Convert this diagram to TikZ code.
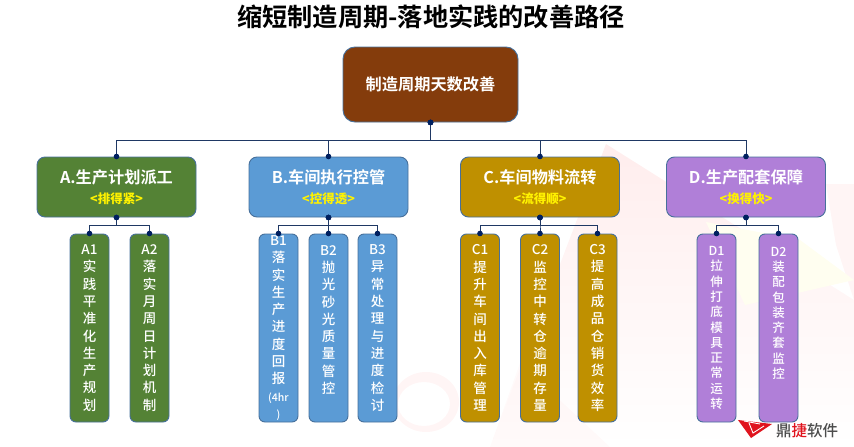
\documentclass[tikz,border=0pt]{standalone}
\usepackage{fontspec}
\setmainfont{Noto Sans CJK SC}[BoldFont={Noto Sans CJK SC Bold}]
\newfontfamily\itemfont{Noto Sans CJK SC Medium}
\usetikzlibrary{arrows.meta}
\definecolor{brownRoot}{HTML}{843C0C}
\definecolor{greenA}{HTML}{548235}
\definecolor{blueB}{HTML}{5B9BD5}
\definecolor{goldC}{HTML}{BF9000}
\definecolor{purpleD}{HTML}{B07FD8}
\definecolor{edgeBox}{HTML}{47709B}
\definecolor{navyLine}{HTML}{1F3864}
\definecolor{dotLine}{HTML}{002060}
\definecolor{redLogo}{HTML}{E0141E}
\tikzset{
  box/.style={draw=edgeBox,line width=.9pt,rounded corners=8pt,text=white,align=center,inner sep=0pt},
  rootbox/.style={box,fill=brownRoot,rounded corners=12pt,minimum width=175pt,minimum height=75pt,font=\fontsize{16.2}{18}\selectfont\bfseries},
  groupbox/.style={box,minimum width=159pt,minimum height=60pt,font=\fontsize{16.2}{19}\selectfont\bfseries},
  itembox/.style={box,rounded corners=6pt,minimum width=39pt,minimum height=188pt,font=\fontsize{13.5}{17.3}\selectfont\itemfont},
  tight/.style={font=\fontsize{12.5}{15.3}\selectfont\itemfont},
  link/.style={draw=navyLine,line width=1pt,{Circle[length=5.5pt,width=5.5pt,color=dotLine]}-{Circle[length=5.5pt,width=5.5pt,color=dotLine]},shorten <=-2.7pt,shorten >=-2.7pt},
  wash/.style={fill=red,fill opacity=.04,draw=none}
}
\newcommand{\motto}[1]{\\[1pt]{\fontsize{12.5}{14}\selectfont\itemfont\color{yellow}#1}}
\begin{document}
\begin{tikzpicture}[x=1pt,y=-1pt]
  \useasboundingbox (0,0) rectangle (854,447);
  % background
  \shade[top color=red!7,bottom color=white] (606,144) -- (854,300) -- (854,447) -- (490,447) -- cycle;
  \fill[wash] (826,184) -- (854,184) -- (854,300) -- (836,245) -- cycle;
  \fill[yellow!6] (706,222) -- (745,305) -- (854,280) -- (800,240) -- cycle;
  \fill[wash,even odd rule] (426,402) ellipse (33pt and 30pt) (424,404) ellipse (26pt and 22pt);
  \fill[wash,fill opacity=.02] (520,363) -- (490,447) -- (610,447) -- cycle;
  \node[font=\fontsize{25.2}{30}\selectfont\bfseries] (title) at (431,17) {缩短制造周期-落地实践的改善路径};
  % top level
  \node[rootbox] (root) at (430.5,84.5) {制造周期天数改善};
  \node[groupbox,fill=greenA] (A) at (116.5,187) {A.生产计划派工\motto{<排得紧>}};
  \node[groupbox,fill=blueB] (B) at (328.5,187) {B.车间执行控管\motto{<控得透>}};
  \node[groupbox,fill=goldC] (C) at (540,187) {C.车间物料流转\motto{<流得顺>}};
  \node[groupbox,fill=purpleD] (D) at (746,187) {D.生产配套保障\motto{<换得快>}};
  % items
  \node[itembox,fill=greenA] (A1) at (89.5,328) {A1\\实\\践\\平\\准\\化\\生\\产\\规\\划};
  \node[itembox,fill=greenA] (A2) at (149.5,328) {A2\\落\\实\\月\\周\\日\\计\\划\\机\\制};
  \node[itembox,fill=blueB] (B1) at (278.5,328) {B1\\落\\实\\生\\产\\进\\度\\回\\报\\{\fontsize{10.5}{12}\selectfont(4hr}\\{\fontsize{10.5}{12}\selectfont)}};
  \node[itembox,fill=blueB] (B2) at (328.5,328) {B2\\抛\\光\\砂\\光\\质\\量\\管\\控\\\mbox{}};
  \node[itembox,fill=blueB] (B3) at (377.5,328) {B3\\异\\常\\处\\理\\与\\进\\度\\检\\讨};
  \node[itembox,fill=goldC] (C1) at (480,328) {C1\\提\\升\\车\\间\\出\\入\\库\\管\\理};
  \node[itembox,fill=goldC] (C2) at (540,328) {C2\\监\\控\\中\\转\\仓\\逾\\期\\存\\量};
  \node[itembox,fill=goldC] (C3) at (597.5,328) {C3\\提\\高\\成\\品\\仓\\销\\货\\效\\率};
  \node[itembox,tight,fill=purpleD] (D1) at (716.5,328) {D1\\拉\\伸\\打\\底\\模\\具\\正\\常\\运\\转};
  \node[itembox,tight,fill=purpleD] (D2) at (778.5,328) {D2\\装\\配\\包\\装\\齐\\套\\监\\控\\\mbox{}\\\mbox{}};
  % connectors
  \foreach \g in {A,B,C,D}
    \draw[link] (root.south) -- ++(0,18) -| (\g.north);
  \foreach \g/\i in {A/A1,A/A2,B/B1,B/B2,B/B3,C/C1,C/C2,C/C3,D/D1,D/D2}
    \draw[link] (\g.south) -- ++(0,8) -| (\i.north);
  % logo
  \fill[redLogo] (738,420) -- (772,424) -- (751,438) -- cycle;
  \draw[white,line width=.9pt] (749,423) -- (753,433) -- (764,426) (744,421) -- (760,424);
  \node[font=\fontsize{15.5}{18}\selectfont\itemfont,text=black!70,inner sep=0pt] (logo) at (807,431) {鼎{\color{redLogo}捷}软件};
\end{tikzpicture}
\end{document}
